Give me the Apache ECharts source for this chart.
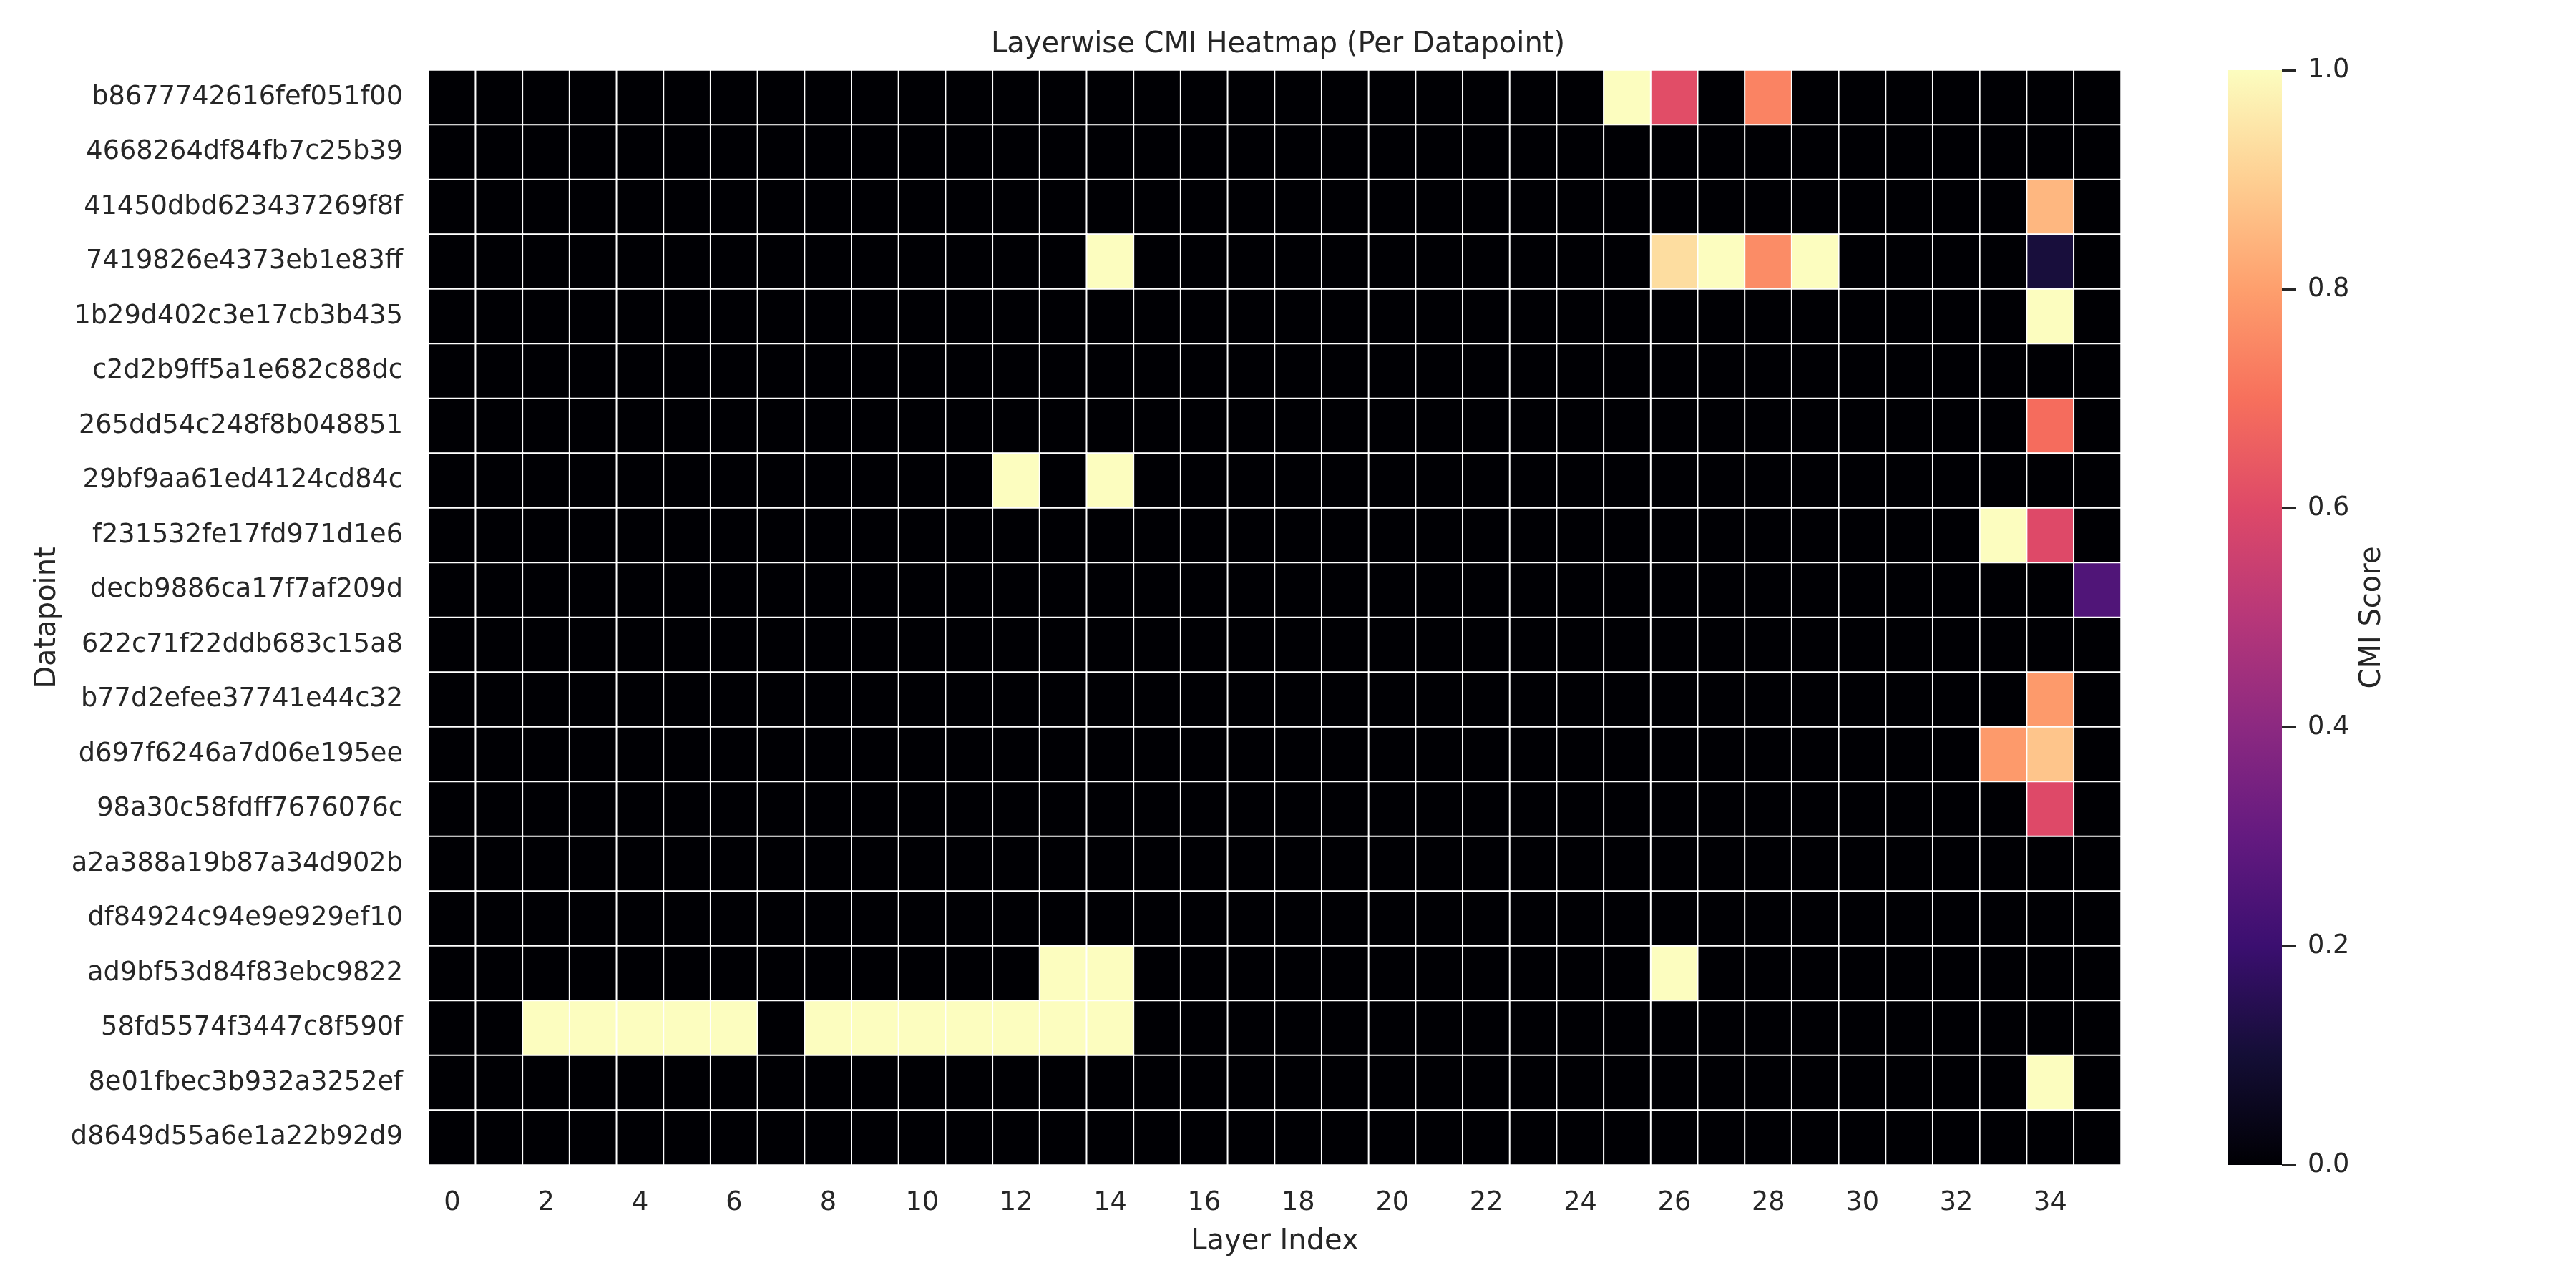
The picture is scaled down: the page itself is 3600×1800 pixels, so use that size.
<!DOCTYPE html>
<html><head><meta charset="utf-8">
<script src="https://cdn.jsdelivr.net/npm/echarts@6/dist/echarts.min.js"></script>
<style>html,body{margin:0;padding:0;background:#fff}#chart{width:3600px;height:1800px}</style>
</head><body><div id="chart"></div>
<script>
const datapoints = [
  'b8677742616fef051f00','4668264df84fb7c25b39','41450dbd623437269f8f','7419826e4373eb1e83ff',
  '1b29d402c3e17cb3b435','c2d2b9ff5a1e682c88dc','265dd54c248f8b048851','29bf9aa61ed4124cd84c',
  'f231532fe17fd971d1e6','decb9886ca17f7af209d','622c71f22ddb683c15a8','b77d2efee37741e44c32',
  'd697f6246a7d06e195ee','98a30c58fdff7676076c','a2a388a19b87a34d902b','df84924c94e9e929ef10',
  'ad9bf53d84f83ebc9822','58fd5574f3447c8f590f','8e01fbec3b932a3252ef','d8649d55a6e1a22b92d9'
];
const layerLabels = ['0','1','2','3','4','5','6','7','8','9','10','11','12','13','14','15','16','17',
  '18','19','20','21','22','23','24','25','26','27','28','29','30','31','32','33','34','35'];
const colorbarTicks = [0, 0.2, 0.4, 0.6, 0.8, 1.0];
// CMI score per datapoint (row) and layer (column)
const cmiRows = [
  [0,0,0,0,0,0, 0,0,0,0,0,0, 0,0,0,0,0,0, 0,0,0,0,0,0, 0,1,0.61,0,0.74,0, 0,0,0,0,0,0],
  [0,0,0,0,0,0, 0,0,0,0,0,0, 0,0,0,0,0,0, 0,0,0,0,0,0, 0,0,0,0,0,0, 0,0,0,0,0,0],
  [0,0,0,0,0,0, 0,0,0,0,0,0, 0,0,0,0,0,0, 0,0,0,0,0,0, 0,0,0,0,0,0, 0,0,0,0,0.85,0],
  [0,0,0,0,0,0, 0,0,0,0,0,0, 0,0,1,0,0,0, 0,0,0,0,0,0, 0,0,0.93,1,0.76,1, 0,0,0,0,0.11,0],
  [0,0,0,0,0,0, 0,0,0,0,0,0, 0,0,0,0,0,0, 0,0,0,0,0,0, 0,0,0,0,0,0, 0,0,0,0,1,0],
  [0,0,0,0,0,0, 0,0,0,0,0,0, 0,0,0,0,0,0, 0,0,0,0,0,0, 0,0,0,0,0,0, 0,0,0,0,0,0],
  [0,0,0,0,0,0, 0,0,0,0,0,0, 0,0,0,0,0,0, 0,0,0,0,0,0, 0,0,0,0,0,0, 0,0,0,0,0.69,0],
  [0,0,0,0,0,0, 0,0,0,0,0,0, 1,0,1,0,0,0, 0,0,0,0,0,0, 0,0,0,0,0,0, 0,0,0,0,0,0],
  [0,0,0,0,0,0, 0,0,0,0,0,0, 0,0,0,0,0,0, 0,0,0,0,0,0, 0,0,0,0,0,0, 0,0,0,1,0.6,0],
  [0,0,0,0,0,0, 0,0,0,0,0,0, 0,0,0,0,0,0, 0,0,0,0,0,0, 0,0,0,0,0,0, 0,0,0,0,0,0.25],
  [0,0,0,0,0,0, 0,0,0,0,0,0, 0,0,0,0,0,0, 0,0,0,0,0,0, 0,0,0,0,0,0, 0,0,0,0,0,0],
  [0,0,0,0,0,0, 0,0,0,0,0,0, 0,0,0,0,0,0, 0,0,0,0,0,0, 0,0,0,0,0,0, 0,0,0,0,0.79,0],
  [0,0,0,0,0,0, 0,0,0,0,0,0, 0,0,0,0,0,0, 0,0,0,0,0,0, 0,0,0,0,0,0, 0,0,0,0.79,0.88,0],
  [0,0,0,0,0,0, 0,0,0,0,0,0, 0,0,0,0,0,0, 0,0,0,0,0,0, 0,0,0,0,0,0, 0,0,0,0,0.6,0],
  [0,0,0,0,0,0, 0,0,0,0,0,0, 0,0,0,0,0,0, 0,0,0,0,0,0, 0,0,0,0,0,0, 0,0,0,0,0,0],
  [0,0,0,0,0,0, 0,0,0,0,0,0, 0,0,0,0,0,0, 0,0,0,0,0,0, 0,0,0,0,0,0, 0,0,0,0,0,0],
  [0,0,0,0,0,0, 0,0,0,0,0,0, 0,1,1,0,0,0, 0,0,0,0,0,0, 0,0,1,0,0,0, 0,0,0,0,0,0],
  [0,0,1,1,1,1, 1,0,1,1,1,1, 1,1,1,0,0,0, 0,0,0,0,0,0, 0,0,0,0,0,0, 0,0,0,0,0,0],
  [0,0,0,0,0,0, 0,0,0,0,0,0, 0,0,0,0,0,0, 0,0,0,0,0,0, 0,0,0,0,0,0, 0,0,0,0,1,0],
  [0,0,0,0,0,0, 0,0,0,0,0,0, 0,0,0,0,0,0, 0,0,0,0,0,0, 0,0,0,0,0,0, 0,0,0,0,0,0]
];
const magma = ['#000004','#140e36','#3b0f70','#641a80','#8c2981','#b73779',
  '#de4968','#f7705c','#fe9f6d','#fecf92','#fcfdbf'];

const heatData = [];
cmiRows.forEach((row, i) => row.forEach((v, j) => heatData.push([j, i, v])));

const FONT = 'DejaVu Sans';
const TXT = '#262626';
const chart = echarts.init(document.getElementById('chart'), null, {width: 3600, height: 1800});
chart.setOption({
  animation: false,
  backgroundColor: '#fff',
  textStyle: {fontFamily: FONT, color: TXT},
  title: {
    text: 'Layerwise CMI Heatmap (Per Datapoint)',
    left: 1781, top: 38, textAlign: 'center',
    textStyle: {fontFamily: FONT, fontSize: 40, fontWeight: 'normal', color: TXT}
  },
  grid: [
    {left: 599, top: 98, width: 2365, height: 1530},
    {left: 3113, top: 98, width: 76, height: 1530}
  ],
  xAxis: [
    {
      type: 'category', gridIndex: 0, data: layerLabels,
      name: 'Layer Index', nameLocation: 'middle', nameGap: 88,
      nameTextStyle: {fontFamily: FONT, fontSize: 40, color: TXT},
      axisLine: {show: false}, axisTick: {show: false}, splitLine: {show: false},
      axisLabel: {interval: 1, fontFamily: FONT, fontSize: 36.7, color: TXT, margin: 35}
    },
    {type: 'category', gridIndex: 1, data: ['cb'], show: false}
  ],
  yAxis: [
    {
      type: 'category', gridIndex: 0, data: datapoints, inverse: true,
      name: 'Datapoint', nameLocation: 'middle', nameGap: 512, nameRotate: 90,
      nameTextStyle: {fontFamily: FONT, fontSize: 40, color: TXT},
      axisLine: {show: false}, axisTick: {show: false}, splitLine: {show: false},
      axisLabel: {interval: 0, fontFamily: FONT, fontSize: 36.7, color: TXT, margin: 36}
    },
    {
      type: 'value', gridIndex: 1, position: 'right', min: 0, max: 1, interval: 0.2,
      name: 'CMI Score', nameLocation: 'middle', nameGap: 107, nameRotate: 90,
      nameTextStyle: {fontFamily: FONT, fontSize: 40, color: TXT},
      axisLine: {show: false},
      axisTick: {show: true, length: 20, lineStyle: {color: TXT, width: 3}},
      splitLine: {show: false},
      axisLabel: {fontFamily: FONT, fontSize: 36.7, color: TXT, margin: 36,
        formatter: v => colorbarTicks.includes(+v.toFixed(1)) ? v.toFixed(1) : ''}
    }
  ],
  visualMap: {
    type: 'continuous', show: false, min: 0, max: 1, seriesIndex: 0,
    inRange: {color: magma}
  },
  series: [
    {
      type: 'heatmap', xAxisIndex: 0, yAxisIndex: 0, data: heatData,
      itemStyle: {borderColor: '#ffffff', borderWidth: 2},
      emphasis: {disabled: true}, silent: true
    },
    {
      type: 'bar', xAxisIndex: 1, yAxisIndex: 1, data: [1], barWidth: '100%', silent: true,
      itemStyle: {
        color: new echarts.graphic.LinearGradient(0, 1, 0, 0,
          magma.map((c, k) => ({offset: k / (magma.length - 1), color: c})))
      }
    }
  ]
});
</script>
</body></html>
